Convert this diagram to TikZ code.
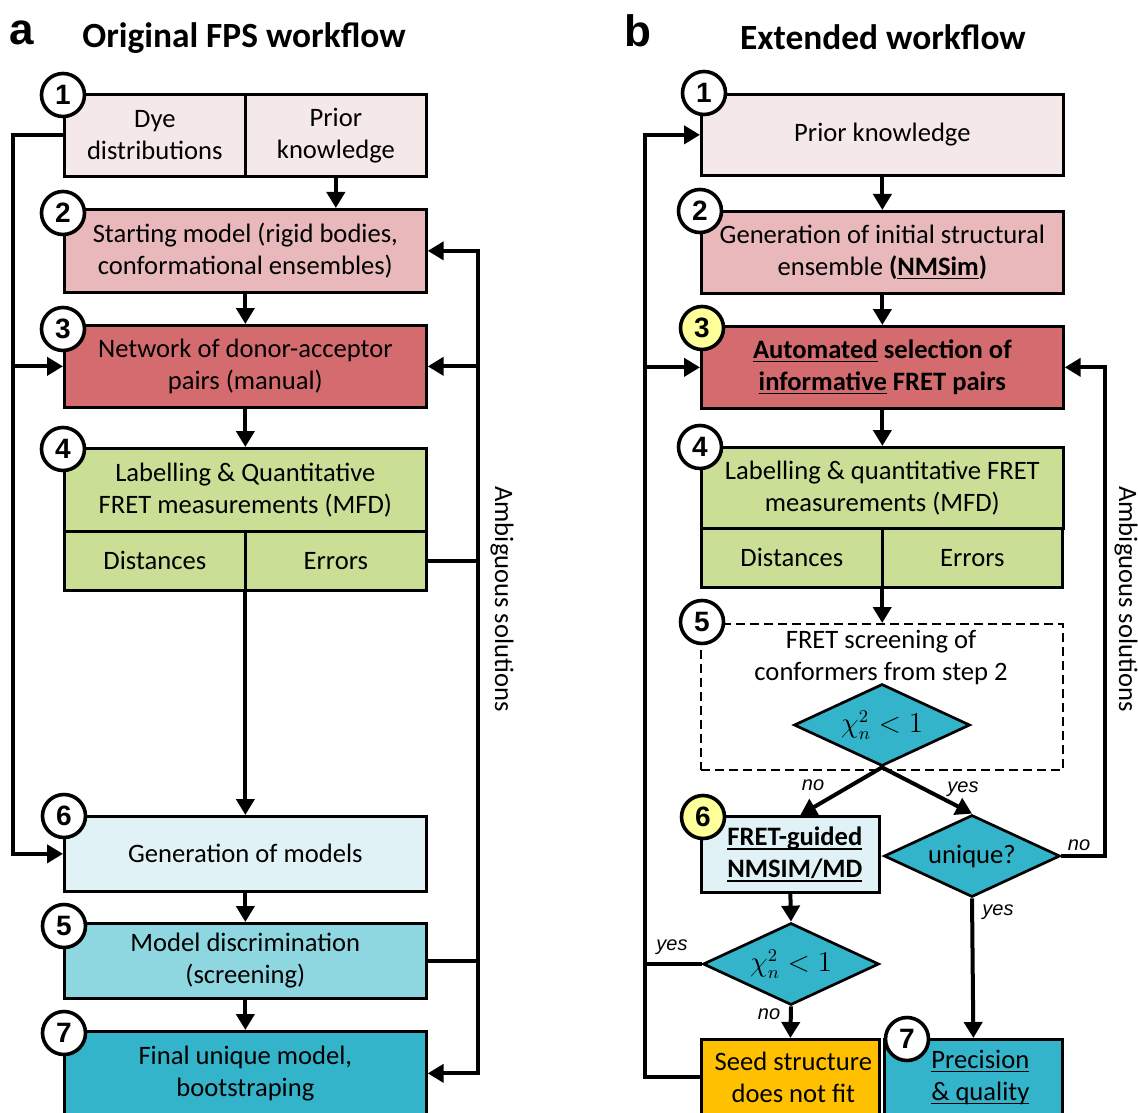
\documentclass[tikz,border=0pt]{standalone}
\usepackage{fontspec}
\setmainfont{Carlito}
\newfontfamily\arialfont{Liberation Sans}
\usetikzlibrary{shapes.geometric}
\usetikzlibrary{positioning}
\usetikzlibrary{arrows.meta}
\usetikzlibrary{calc}

\definecolor{pinkA}{HTML}{F5E8E8}
\definecolor{pinkB}{HTML}{E8B8BA}
\definecolor{redC}{HTML}{D46C6F}
\definecolor{greenD}{HTML}{CADF95}
\definecolor{cyanA}{HTML}{E0F2F5}
\definecolor{cyanB}{HTML}{8ED7E1}
\definecolor{cyanC}{HTML}{34B4CA}
\definecolor{seedO}{HTML}{FFC000}
\definecolor{hilite}{HTML}{FFFF99}

\newcommand\fpsfont{\fontsize{13.3}{16}\selectfont}
% underline at a fixed depth, crossing the descenders
\newcommand\ulw[1]{\begingroup\setbox0\hbox{#1}\rlap{\rule[-1.9pt]{\wd0}{0.7pt}}\box0\endgroup}

\tikzset{
  box/.style={draw, line width=1.35pt, inner sep=0pt, align=center, font=\fpsfont, anchor=north west},
  wide/.style={minimum width=181pt},
  half/.style={minimum width=90.5pt},
  narrow/.style={minimum width=89pt},
  decision/.style={diamond, draw, line width=1.35pt, fill=cyanC, aspect=2.2, inner sep=0pt,
                   minimum width=88pt, minimum height=41pt, font=\fpsfont},
  stepnum/.style={circle, draw, line width=1.8pt, fill=white, minimum size=21.5pt, inner sep=0pt,
                  font=\arialfont\bfseries\fontsize{14}{14}\selectfont},
  flow/.style={line width=2pt, -{Triangle[width=9pt,length=8pt]}},
  link/.style={line width=2pt},
  answer/.style={font=\arialfont\itshape\fontsize{10}{12}\selectfont, inner sep=0pt},
  heading/.style={font=\bfseries\fontsize{17.7}{20}\selectfont, inner sep=0pt},
  panel/.style={font=\arialfont\bfseries\fontsize{22}{24}\selectfont, inner sep=0pt},
  side/.style={font=\fpsfont, rotate=-90, inner sep=0pt}
}

\begin{document}
\begin{tikzpicture}[x=0.5pt, y=-0.5pt]
\useasboundingbox (0,0) rectangle (1138,1112);
\clip (0,0) rectangle (1138,1112);

%---------------------------------------
% Panel a: original FPS workflow
%---------------------------------------
\node[panel] (tagA) at (22,33) {a};
\node[heading, anchor=base] (headA) at (244,48) {Original FPS workflow};

% Boxes
\node[box, half, fill=pinkA, minimum height=41pt] (L1a) at (63,93) {Dye\\distributions};
\node[box, half, fill=pinkA, minimum height=41pt] (L1b) at (244,93) {Prior\\knowledge};
\node[box, wide, fill=pinkB, minimum height=41.5pt] (L2) at (63,208)
     {Starting model (rigid bodies,\\conformational ensembles)};
\node[box, wide, fill=redC, minimum height=41pt] (L3) at (63,324)
     {Network of donor-acceptor\\pairs (manual)};
\node[box, wide, fill=greenD, minimum height=41.5pt] (L4) at (63,447)
     {Labelling \& Quantitative\\FRET measurements (MFD)};
\node[box, half, fill=greenD, minimum height=29.5pt] (L4a) at (63,530) {Distances};
\node[box, half, fill=greenD, minimum height=29.5pt] (L4b) at (244,530) {Errors};
\node[box, wide, fill=cyanA, minimum height=37.5pt] (L6) at (63,815) {Generation of models};
\node[box, wide, fill=cyanB, minimum height=37.5pt] (L5) at (63,922)
     {Model discrimination\\(screening)};
\node[box, wide, fill=cyanC, minimum height=42pt] (L7) at (63,1030)
     {Final unique model,\\bootstraping};

% Forward arrows
\draw[flow] (L1b.south) -- (L1b.south |- L2.north);
\draw[flow] (L2.south) -- (L3.north);
\draw[flow] (L3.south) -- (L4.north);
\draw[flow] (L6.north |- L4a.south) -- (L6.north);
\draw[flow] (L6.south) -- (L5.north);
\draw[flow] (L5.south) -- (L7.north);

% Feedback lines
\coordinate (fbL) at (13,500);
\coordinate (fbR) at (478,600);
\draw[flow] (L1a.west) -| (fbL |- L6.west) -- (L6.west);
\draw[flow] (fbL |- L3.west) -- (L3.west);
\draw[link] (L4b.east) -- (L4b.east -| fbR);
\draw[link] (L5.east) -- (L5.east -| fbR);
\draw[flow] (fbR |- L7.east) |- (L2.east);
\draw[flow] (fbR |- L2.east) |- (L7.east);
\draw[flow] (fbR |- L3.east) -- (L3.east);
\node[side] (ambA) at (502,599) {Ambiguous solutions};

% Step numbers
\node[stepnum] (nA1) at (63,95) {1};
\node[stepnum] (nA2) at (63,213) {2};
\node[stepnum] (nA3) at (63,329) {3};
\node[stepnum] (nA4) at (63,449) {4};
\node[stepnum] (nA6) at (64,816) {6};
\node[stepnum] (nA5) at (64,926) {5};
\node[stepnum] (nA7) at (64,1033) {7};

%---------------------------------------
% Panel b: extended workflow
%---------------------------------------
\node[panel] (tagB) at (638,31) {b};
\node[heading, anchor=base] (headB) at (883,50) {Extended workflow};

% Boxes
\node[box, wide, fill=pinkA, minimum height=40.5pt] (R1) at (700,93) {Prior knowledge};
\node[box, wide, fill=pinkB, minimum height=41pt] (R2) at (700,210)
     {Generation of initial structural\\ensemble \textbf{(\ulw{NMSim})}};
\node[box, wide, fill=redC, minimum height=41pt, font=\fpsfont\bfseries] (R3) at (700,325)
     {\ulw{Automated} selection of\\\ulw{informative} FRET pairs};
\node[box, wide, fill=greenD, minimum height=40.5pt] (R4) at (700,446)
     {Labelling \& quantitative FRET\\measurements (MFD)};
\node[box, half, fill=greenD, minimum height=29.5pt] (R4a) at (700,527) {Distances};
\node[box, minimum width=90pt, fill=greenD, minimum height=29.5pt] (R4b) at (881,527) {Errors};
\node[box, wide, dash pattern=on 4.5pt off 2.5pt, line width=1.2pt, minimum height=73pt] (R5) at (700,623) {};
\node[font=\fpsfont, align=center, inner sep=0pt] (R5t) at (881,657)
     {FRET screening of\\conformers from step 2};
\node[decision] (D1) at (882,725) {$\chi_n^2 < 1$};
\node[box, narrow, fill=cyanA, minimum height=38pt, font=\fpsfont\bfseries] (R6) at (700,815)
     {\hspace*{4.5pt}\ulw{FRET-guided}\\\hspace*{4.5pt}\ulw{NMSIM/MD}};
\node[decision] (DU) at (972,856) {unique?};
\node[decision] (D2) at (791,964) {$\chi_n^2 < 1$};
\node[box, narrow, fill=seedO, minimum height=38pt] (RS) at (700,1038)
     {\hspace*{3pt}Seed structure\\\hspace*{3pt}does not fit};
\node[box, narrow, fill=cyanC, minimum height=38pt] (R7) at (883,1038)
     {\hspace*{7pt}\ulw{Precision}\\\hspace*{7pt}\ulw{\& quality}};

% Forward arrows
\draw[flow] (R1.south) -- (R2.north);
\draw[flow] (R2.south) -- (R3.north);
\draw[flow] (R3.south) -- (R4.north);
\draw[flow] (R5.north |- R4a.south) -- (R5.north);
\draw[flow] (D1.south) -- ([xshift=5pt]R6.north);
\draw[flow] (D1.south) -- (DU.north);
\draw[flow] (R6.south) -- (D2.north);
\draw[flow] (D2.south) -- (RS.north);
\draw[flow] (DU.south) -- (R7.north);

% Feedback lines
\coordinate (fbL2) at (645,600);
\coordinate (fbR2) at (1105,600);
\draw[flow] (DU.east) -| (fbR2 |- R3.east) -- (R3.east);
\draw[link] (D2.west) -- (D2.west -| fbL2);
\draw[flow] (RS.west) -| (fbL2 |- R1.west) -- (R1.west);
\draw[flow] (fbL2 |- R3.west) -- (R3.west);
\node[side] (ambB) at (1126,599) {Ambiguous solutions};

% Answers
\node[answer] (no1) at (813,785) {no};
\node[answer] (yes1) at (963,789) {yes};
\node[answer] (no2) at (1079,845) {no};
\node[answer] (yes2) at (998,912) {yes};
\node[answer] (yes3) at (672,947) {yes};
\node[answer] (no3) at (769,1014) {no};

% Step numbers
\node[stepnum] (nB1) at (704,93) {1};
\node[stepnum] (nB2) at (700,211) {2};
\node[stepnum, fill=hilite] (nB3) at (702,328) {3};
\node[stepnum] (nB4) at (700,447) {4};
\node[stepnum] (nB5) at (702,622) {5};
\node[stepnum, fill=hilite] (nB6) at (703,817) {6};
\node[stepnum] (nB7) at (907,1039) {7};

\end{tikzpicture}
\end{document}
